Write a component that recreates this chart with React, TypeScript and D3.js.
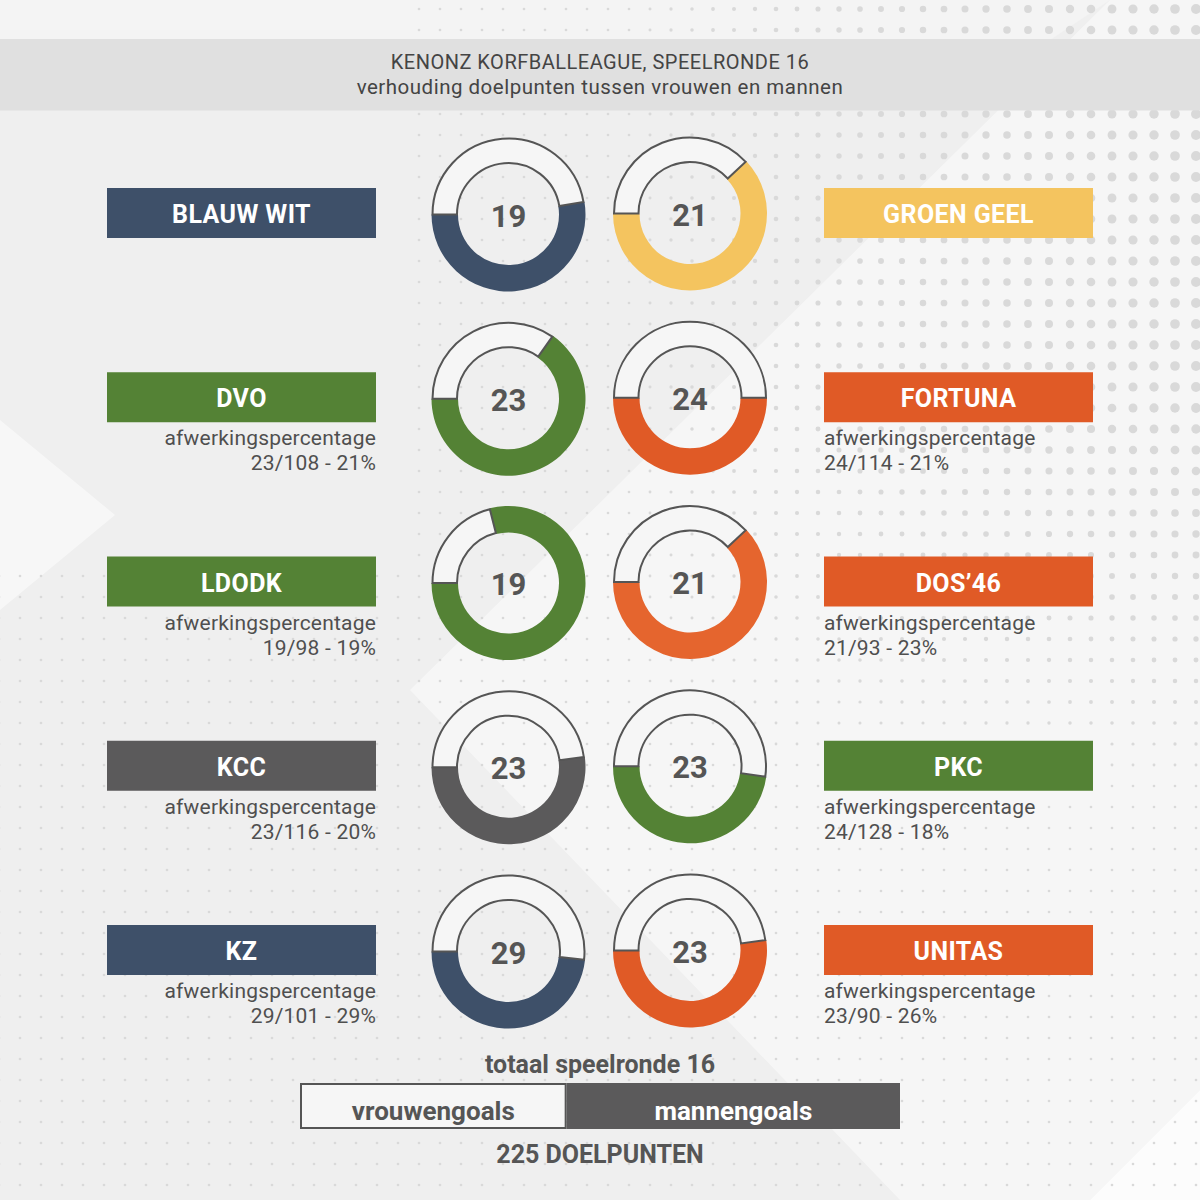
import React from 'react';
import * as d3 from 'd3';

// ---- data ----
const homeTeams = ['BLAUW WIT', 'DVO', 'LDODK', 'KCC', 'KZ'];
const awayTeams = ['GROEN GEEL', 'FORTUNA', 'DOS\u201946', 'PKC', 'UNITAS'];
const homeGoals = [19, 23, 19, 23, 29];
const awayGoals = [21, 24, 21, 23, 23];
const homeWomenGoals = [9, 8, 4, 11, 15];
const awayWomenGoals = [8, 12, 8, 12, 11];
const homeFinishing = ['', '23/108 - 21%', '19/98 - 19%', '23/116 - 20%', '29/101 - 29%'];
const awayFinishing = ['', '24/114 - 21%', '21/93 - 23%', '24/128 - 18%', '23/90 - 26%'];
const homeColors = ['#3e5069', '#548235', '#548235', '#5b5a5b', '#3e5069'];
const awayColors = ['#f4c45f', '#e05a26', '#e5652e', '#548235', '#e05a26'];
const awayBoxColors = ['#f4c45f', '#e05a26', '#e05a26', '#548235', '#e05a26'];
const totalLabels = ['vrouwengoals', 'mannengoals'];
const totalValues = [100, 125];
const titleLines = ['KENONZ KORFBALLEAGUE, SPEELRONDE 16', 'verhouding doelpunten tussen vrouwen en mannen'];

const FONT = "Roboto, 'Noto Sans', sans-serif";
const TEXT = '#4f4f4f';

type PD = d3.PieArcDatum<number>;

function Donut({ cx, cy, women, men, color, label }: { cx: number; cy: number; women: number; men: number; color: string; label: number }) {
  const pie = d3.pie<number>().sort(null).value((d) => d).startAngle(-Math.PI / 2).endAngle(1.5 * Math.PI);
  const arcs = pie([women, men]);
  const womenArc = d3.arc<PD>().innerRadius(51.5).outerRadius(76);
  const menArc = d3.arc<PD>().innerRadius(50.5).outerRadius(77);
  return (
    <g transform={`translate(${cx},${cy})`}>
      <path d={menArc(arcs[1]) || ''} fill={color} />
      <path d={womenArc(arcs[0]) || ''} fill="#f6f6f6" stroke="#555" strokeWidth={2} strokeLinejoin="miter" />
      <text x={0} y={12} textAnchor="middle" fontFamily={FONT} fontWeight={700} fontSize={31} fill="#555">{label}</text>
    </g>
  );
}

export default function App() {
  const W = 1200, H = 1200;
  const rowY = d3.scalePoint<number>().domain(d3.range(homeTeams.length)).range([213, 950]);

  // decorative dot grid
  const dots: { x: number; y: number; r: number }[] = [];
  d3.range(0, 58).forEach((i) => {
    d3.range(0, 58).forEach((j) => {
      const x = -1 + i * 21;
      const y = 9 + j * 21;
      const tx = Math.max(0, Math.min(1, (x - 620) / 580));
      const ty = Math.max(0, Math.min(1, 1 - (y - 400) / 380));
      const t = tx * ty;
      if (x < 400 && y < 560 && t === 0) return;
      dots.push({ x, y, r: 1.3 + 3.7 * t });
    });
  });

  const totalX = d3.scaleLinear().domain([0, d3.sum(totalValues)]).range([300, 900]);
  const totalStarts = d3.cumsum([0, ...totalValues]);

  const boxW = 269, boxH = 50;
  const leftBoxX = 107, rightBoxX = 824;

  return (
    <svg width={W} height={H} style={{ position: 'absolute', left: 0, top: 0 }}>
      <rect width={W} height={H} fill="#efefef" />
      {/* decorative light shapes */}
      <polygon points="1110,0 1200,0 1200,1090 1090,1200 900,1200 410,690" fill="#ffffff" opacity={0.45} />
      <polygon points="0,420 115,515 0,610" fill="#ffffff" opacity={0.5} />
      <polygon points="1090,1200 1200,1090 1200,1200" fill="#ffffff" opacity={0.8} />
      <polygon points="0,0 1110,0 1050,40 0,40" fill="#f4f4f4" />
      <g fill="#d9d9d9">
        {dots.map((d, k) => (
          <circle key={k} cx={d.x} cy={d.y} r={d.r} />
        ))}
      </g>

      {/* title band */}
      <rect x={0} y={39} width={W} height={71.5} fill="#e0e0e0" />
      <text x={600} y={69} textAnchor="middle" fontFamily={FONT} fontSize={20} letterSpacing={0.5} fill="#444">{titleLines[0]}</text>
      <text x={600} y={94} textAnchor="middle" fontFamily={FONT} fontSize={20.5} letterSpacing={0.5} fill="#444">{titleLines[1]}</text>

      {homeTeams.map((team, i) => {
        const cy = rowY(i)!;
        return (
          <g key={team}>
            {/* left team */}
            <rect x={leftBoxX} y={cy - boxH / 2} width={boxW} height={boxH} fill={homeColors[i]} />
            <text x={leftBoxX + boxW / 2} y={cy + 10} textAnchor="middle" fontFamily={FONT} fontWeight={700} fontSize={25} letterSpacing={0.4} fill="#fff">{team}</text>
            {homeFinishing[i] && (
              <g fontFamily={FONT} fontSize={21} fill={TEXT} textAnchor="end" letterSpacing={0.2}>
                <text x={leftBoxX + boxW} y={cy + 48}>afwerkingspercentage</text>
                <text x={leftBoxX + boxW} y={cy + 73}>{homeFinishing[i]}</text>
              </g>
            )}
            <Donut cx={508.5} cy={cy + 1.5} women={homeWomenGoals[i]} men={homeGoals[i] - homeWomenGoals[i]} color={homeColors[i]} label={homeGoals[i]} />

            {/* right team */}
            <Donut cx={690} cy={cy + 0.5} women={awayWomenGoals[i]} men={awayGoals[i] - awayWomenGoals[i]} color={awayColors[i]} label={awayGoals[i]} />
            <rect x={rightBoxX} y={cy - boxH / 2} width={boxW} height={boxH} fill={awayBoxColors[i]} />
            <text x={rightBoxX + boxW / 2} y={cy + 10} textAnchor="middle" fontFamily={FONT} fontWeight={700} fontSize={25} letterSpacing={0.4} fill="#fff">{awayTeams[i]}</text>
            {awayFinishing[i] && (
              <g fontFamily={FONT} fontSize={21} fill={TEXT} textAnchor="start" letterSpacing={0.2}>
                <text x={rightBoxX} y={cy + 48}>afwerkingspercentage</text>
                <text x={rightBoxX} y={cy + 73}>{awayFinishing[i]}</text>
              </g>
            )}
          </g>
        );
      })}

      {/* totals */}
      <text x={600} y={1073} textAnchor="middle" fontFamily={FONT} fontWeight={700} fontSize={25} fill="#555">totaal speelronde 16</text>
      {totalValues.map((v, k) => {
        const x0 = totalX(totalStarts[k]);
        const x1 = totalX(totalStarts[k] + v);
        return (
          <g key={k}>
            {k === 0 ? (
              <rect x={x0 + 1} y={1084} width={x1 - x0 - 2} height={44} fill="#f6f6f6" stroke="#555" strokeWidth={2} />
            ) : (
              <rect x={x0} y={1083} width={x1 - x0} height={46} fill="#5b5a5b" />
            )}
            <text x={(x0 + x1) / 2} y={1120} textAnchor="middle" fontFamily={FONT} fontWeight={700} fontSize={26} fill={k === 0 ? '#555' : '#fff'}>{totalLabels[k]}</text>
          </g>
        );
      })}
      <text x={600} y={1163} textAnchor="middle" fontFamily={FONT} fontWeight={700} fontSize={25} fill="#555">{`${d3.sum(totalValues)} DOELPUNTEN`}</text>
    </svg>
  );
}
